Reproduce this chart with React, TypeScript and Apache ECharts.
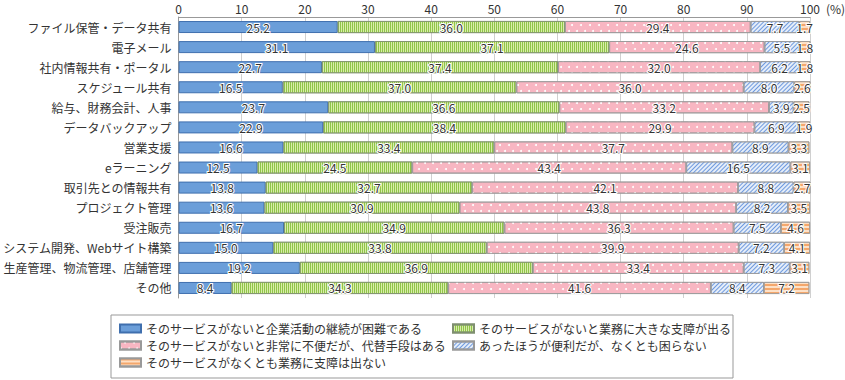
import React, { useEffect, useRef } from "react";
import * as echarts from "echarts";

const categories = [
  "ファイル保管・データ共有",
  "電子メール",
  "社内情報共有・ポータル",
  "スケジュール共有",
  "給与、財務会計、人事",
  "データバックアップ",
  "営業支援",
  "eラーニング",
  "取引先との情報共有",
  "プロジェクト管理",
  "受注販売",
  "システム開発、Webサイト構築",
  "生産管理、物流管理、店舗管理",
  "その他",
];

const seriesNames = [
  "そのサービスがないと企業活動の継続が困難である",
  "そのサービスがないと業務に大きな支障が出る",
  "そのサービスがないと非常に不便だが、代替手段はある",
  "あったほうが便利だが、なくとも困らない",
  "そのサービスがなくとも業務に支障は出ない",
];

const critical = [25.2, 31.1, 22.7, 16.5, 23.7, 22.9, 16.6, 12.5, 13.8, 13.6, 16.7, 15.0, 19.2, 8.4];
const major = [36.0, 37.1, 37.4, 37.0, 36.6, 38.4, 33.4, 24.5, 32.7, 30.9, 34.9, 33.8, 36.9, 34.3];
const inconvenient = [29.4, 24.6, 32.0, 36.0, 33.2, 29.9, 37.7, 43.4, 42.1, 43.8, 36.3, 39.9, 33.4, 41.6];
const niceToHave = [7.7, 5.5, 6.2, 8.0, 3.9, 6.9, 8.9, 16.5, 8.8, 8.2, 7.5, 7.2, 7.3, 8.4];
const noImpact = [1.7, 1.8, 1.8, 2.6, 2.5, 1.9, 3.3, 3.1, 2.7, 3.5, 4.6, 4.1, 3.1, 7.2];

const xTicks = [0, 10, 20, 30, 40, 50, 60, 70, 80, 90, 100];

const FONT = "'Noto Sans CJK JP', 'Noto Sans', sans-serif";

export default function App() {
  const ref = useRef<HTMLDivElement>(null);
  useEffect(() => {
    if (!ref.current) return;
    const chart = echarts.init(ref.current, null, { renderer: "svg" });
    const values = [critical, major, inconvenient, niceToHave, noImpact];
    const styles: any[] = [
      { color: "#6b9ed9", borderColor: "#3f6fae", borderWidth: 1 },
      {
        color: "#d9ecaa",
        borderColor: "#7f8f70",
        borderWidth: 0.8,
        decal: { symbol: "rect", symbolSize: 1, color: "#8fc548", dashArrayX: [1, 1], dashArrayY: [1, 0], rotation: 0 },
      },
      {
        color: "#f8b6c2",
        borderColor: "#999",
        borderWidth: 0.8,
        decal: {
          symbol: "circle",
          symbolSize: 1,
          color: "#ffffff",
          dashArrayX: [[1.5, 6], [0, 3.75, 1.5, 2.25]],
          dashArrayY: [1.5, 4],
          rotation: 0,
        },
      },
      {
        color: "#e4edf9",
        borderColor: "#999",
        borderWidth: 0.8,
        decal: { symbol: "rect", symbolSize: 1, color: "#6f9ade", dashArrayX: [1, 0], dashArrayY: [1, 2], rotation: -Math.PI / 4 },
      },
      {
        color: "#fde0c6",
        borderColor: "#999",
        borderWidth: 0.8,
        decal: { symbol: "rect", symbolSize: 1, color: "#f4a76c", dashArrayX: [1, 0], dashArrayY: [1.5, 1.5], rotation: 0 },
      },
    ];
    const series = values.map((arr, i) => ({
      name: seriesNames[i],
      type: "bar",
      stack: "total",
      barWidth: 12,
      data: arr,
      itemStyle: styles[i],
      label: {
        show: true,
        position: "inside",
        formatter: (p: any) => Number(p.value).toFixed(1),
        color: "#333",
        fontSize: 12,
        fontFamily: FONT,
        textBorderColor: "#fff",
        textBorderWidth: 2,
      },
    }));
    const legendCommon = {
      orient: "vertical",
      itemWidth: 21,
      itemHeight: 8,
      itemGap: 0,
      textStyle: { fontSize: 12, lineHeight: 17, color: "#333", fontFamily: FONT },
      icon: "rect",
    };
    chart.setOption({
      animation: false,
      aria: { enabled: false, decal: { show: false } },
      grid: { left: 177, right: 35, top: 17, bottom: 82, containLabel: false },
      xAxis: {
        type: "value",
        position: "top",
        min: 0,
        max: 100,
        interval: 10,
        axisLine: { show: true, lineStyle: { color: "#999" } },
        axisTick: { show: false },
        axisLabel: {
          color: "#333",
          fontSize: 12,
          fontFamily: FONT,
          margin: 3,
          formatter: (v: number) => (xTicks.includes(v) ? String(v) : ""),
        },
        splitLine: { show: true, lineStyle: { color: "#d0d0d0" } },
      },
      yAxis: {
        type: "category",
        data: categories,
        inverse: true,
        axisLine: { show: true, lineStyle: { color: "#999" } },
        axisTick: { show: false },
        axisLabel: { color: "#333", fontSize: 12, fontFamily: FONT, margin: 7 },
      },
      legend: [
        { ...legendCommon, left: 119, top: 320, padding: 0, data: [seriesNames[0], seriesNames[2], seriesNames[4]] },
        { ...legendCommon, left: 452, top: 320, padding: 0, data: [seriesNames[1], seriesNames[3]] },
      ],
      graphic: [
        {
          type: "rect",
          shape: { x: 111, y: 315, width: 622, height: 63 },
          style: { fill: "none", stroke: "#999", lineWidth: 1 },
        },
        {
          type: "text",
          x: 826,
          y: 2,
          style: { text: "(%)", fontSize: 12, fill: "#333", fontFamily: FONT },
        },
      ],
      series,
    });
    return () => chart.dispose();
  }, []);
  return <div ref={ref} style={{ width: 845, height: 380, position: "absolute", left: 0, top: 0 }} />;
}
